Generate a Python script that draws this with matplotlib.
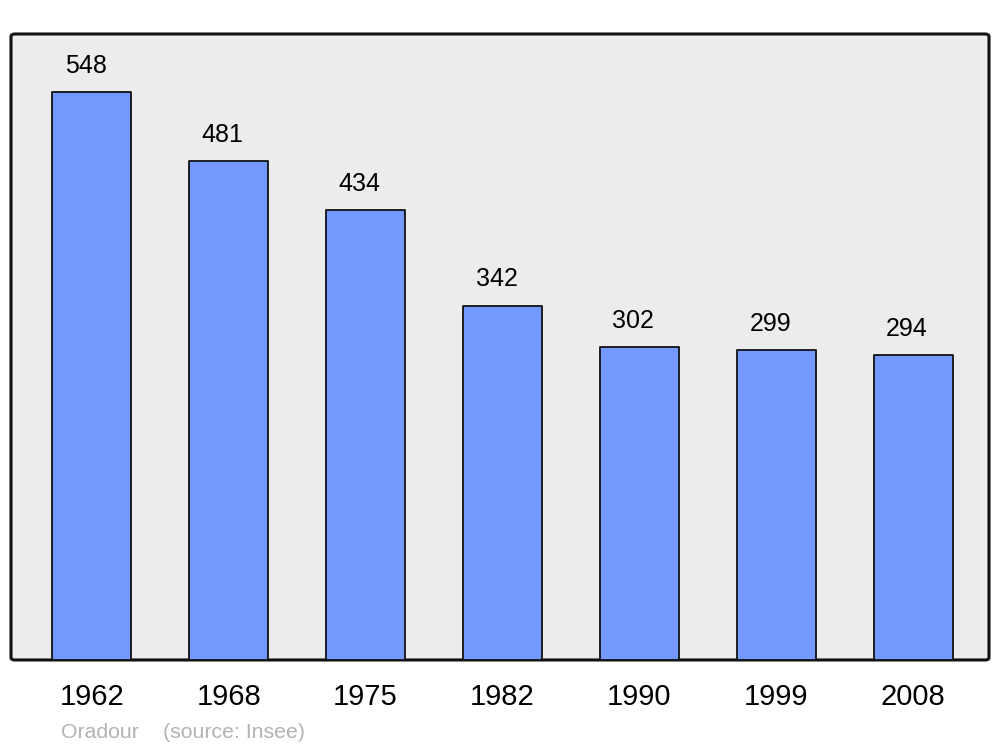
import matplotlib.pyplot as plt
from matplotlib.patches import FancyBboxPatch

plt.rcParams['font.family'] = ['Liberation Sans', 'DejaVu Sans']

years = ['1962', '1968', '1975', '1982', '1990', '1999', '2008']
population = [548, 481, 434, 342, 302, 299, 294]

fig = plt.figure(figsize=(10, 7.47), dpi=100)
ax = fig.add_axes([0.011, 0.1165, 0.978, 0.838])
ax.set_facecolor('none')

# cadre arrondi
frame = FancyBboxPatch((0, 0), 1, 1, boxstyle='round,pad=0,rounding_size=0.004',
                       transform=ax.transAxes, facecolor='#ececec', edgecolor='#111111',
                       linewidth=2.2, zorder=0, clip_on=False)
ax.add_patch(frame)

x = range(len(years))
bars = ax.bar(x, population, width=0.577, color='#7399ff', edgecolor='#111111',
              linewidth=1.3, zorder=2)
for b in bars:
    b.set_joinstyle('round')

for i, v in enumerate(population):
    ax.annotate(str(v), xy=(i, v), xytext=(-4.3, 13.7), textcoords='offset points',
                ha='center', va='baseline', fontsize=18, color='black')
    ax.annotate(years[i], xy=(i, 0), xycoords=('data', 'axes fraction'),
                xytext=(0, -32.4), textcoords='offset points',
                ha='center', va='baseline', fontsize=21, color='black',
                annotation_clip=False)

ax.set_xlim(-0.591, 6.555)
ax.set_ylim(0, 604)
ax.set_xticks([])
ax.set_yticks([])
for s in ax.spines.values():
    s.set_visible(False)

fig.text(61 / 1000, 1 - 738 / 747, 'Oradour', fontsize=15.3, color='#b3b3b3', va='baseline')
fig.text(163 / 1000, 1 - 738 / 747, '(source: Insee)', fontsize=15.3, color='#b3b3b3', va='baseline')

fig.savefig('out.png', dpi=100)
